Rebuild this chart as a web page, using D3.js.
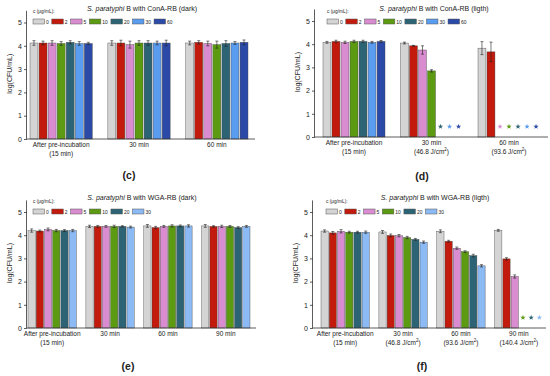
<!DOCTYPE html>
<html>
<head>
<meta charset="utf-8">
<script src="https://cdn.jsdelivr.net/npm/d3@7"></script>
<style>
  body { margin: 0; background: #fff; }
  text { font-family: "Liberation Sans", Arial, sans-serif; }
</style>
</head>
<body>
<div id="chart"></div>
<script>
// Series (concentrations) and their colours
const concConA = ['0', '2', '5', '10', '20', '30', '60'];
const concWGA = ['0', '2', '5', '10', '20', '30'];
const colorsConA = ['#d4d4d4', '#c21a0c', '#d98cd0', '#5c9a12', '#2d6475', '#5a9cef', '#2b4aa8'];
const colorsWGA = ['#d4d4d4', '#c21a0c', '#d98cd0', '#5c9a12', '#2d6475', '#8cbaf4'];

// Category labels (lines split with |)
const groupsC = ['After pre-incubation|(15 min)', '30 min', '60 min'];
const groupsD = ['After pre-incubation|(15 min)', '30 min|(46.8 J/cm²)', '60 min|(93.6 J/cm²)'];
const groupsE = ['After pre-incubation|(15 min)', '30 min', '60 min', '90 min'];
const groupsF = ['After pre-incubation|(15 min)', '30 min|(46.8 J/cm²)', '60 min|(93.6 J/cm²)', '90 min|(140.4 J/cm²)'];

// log(CFU/mL) values, one row per group; null = no survivors (star)
const valuesC = [
  [4.12, 4.12, 4.12, 4.10, 4.15, 4.10, 4.10],
  [4.12, 4.12, 4.05, 4.12, 4.12, 4.12, 4.12],
  [4.12, 4.15, 4.10, 4.05, 4.10, 4.12, 4.15]
];
const errorsC = [
  [0.10, 0.08, 0.10, 0.08, 0.07, 0.08, 0.05],
  [0.10, 0.12, 0.15, 0.10, 0.10, 0.08, 0.12],
  [0.08, 0.07, 0.10, 0.15, 0.12, 0.06, 0.10]
];
const valuesD = [
  [4.08, 4.12, 4.08, 4.12, 4.12, 4.08, 4.12],
  [4.05, 3.93, 3.75, 2.85, null, null, null],
  [3.83, 3.67, null, null, null, null, null]
];
const errorsD = [
  [0.04, 0.05, 0.05, 0.05, 0.05, 0.04, 0.04],
  [0.04, 0.02, 0.18, 0.05, 0, 0, 0],
  [0.28, 0.42, 0, 0, 0, 0, 0]
];
const valuesE = [
  [4.20, 4.18, 4.25, 4.20, 4.20, 4.20],
  [4.38, 4.38, 4.38, 4.38, 4.38, 4.35],
  [4.40, 4.33, 4.38, 4.40, 4.40, 4.40],
  [4.40, 4.38, 4.38, 4.38, 4.33, 4.38]
];
const errorsE = [
  [0.07, 0.04, 0.06, 0.05, 0.04, 0.05],
  [0.05, 0.04, 0.04, 0.05, 0.03, 0.04],
  [0.06, 0.05, 0.04, 0.05, 0.04, 0.05],
  [0.06, 0.03, 0.05, 0.04, 0.04, 0.04]
];
const valuesF = [
  [4.18, 4.10, 4.17, 4.13, 4.13, 4.13],
  [4.14, 3.99, 3.98, 3.90, 3.82, 3.70],
  [4.17, 3.74, 3.44, 3.29, 3.12, 2.68],
  [4.21, 2.98, 2.22, null, null, null]
];
const errorsF = [
  [0.05, 0.06, 0.07, 0.04, 0.04, 0.05],
  [0.06, 0.06, 0.05, 0.05, 0.04, 0.05],
  [0.06, 0.04, 0.05, 0.04, 0.06, 0.05],
  [0.04, 0.05, 0.07, 0, 0, 0]
];
const yTicks = [0, 1, 2, 3, 4, 5];
const starLevel = 0.45;

const svg = d3.select('#chart').append('svg')
  .attr('width', 550)
  .attr('height', 376);

function drawPanel(p) {
  const g = svg.append('g');

  const y = d3.scaleLinear()
    .domain([0, 5.5])
    .range([p.bottom, p.bottom - 5.5 * p.unit]);

  const x = d3.scaleBand()
    .domain(d3.range(p.groups.length))
    .range(p.band)
    .paddingInner(p.padInner);

  const xs = d3.scaleBand()
    .domain(d3.range(p.series.length))
    .range([0, x.bandwidth()])
    .paddingInner(0.12);

  // Bars
  p.values.forEach((row, gi) => {
    row.forEach((v, si) => {
      const cx = x(gi) + xs(si);
      if (v === null) {
        g.append('path')
          .attr('d', d3.symbol(d3.symbolStar, 9)())
          .attr('transform', `translate(${cx + xs.bandwidth() / 2},${y(starLevel)})`)
          .attr('fill', p.colors[si]);
        return;
      }
      g.append('rect')
        .attr('x', cx)
        .attr('y', y(v))
        .attr('width', xs.bandwidth())
        .attr('height', y(0) - y(v))
        .attr('fill', p.colors[si])
        .attr('stroke', '#444')
        .attr('stroke-width', 0.4);

      const e = p.errors[gi][si];
      const mx = cx + xs.bandwidth() / 2;
      g.append('path')
        .attr('d', `M${mx},${y(v - e)}V${y(v + e)}M${mx - 1.5},${y(v + e)}H${mx + 1.5}M${mx - 1.5},${y(v - e)}H${mx + 1.5}`)
        .attr('stroke', '#222')
        .attr('stroke-width', 0.6)
        .attr('fill', 'none');
    });
  });

  // Y axis
  const yAxis = g.append('g')
    .attr('transform', `translate(${p.left},0)`)
    .call(d3.axisLeft(y).tickValues(yTicks).tickSize(3).tickPadding(2).tickFormat(d3.format('d')));
  yAxis.select('.domain').attr('d', `M-0.5,${y(5.5)}V${y(0)}`).attr('stroke', '#333').attr('stroke-width', 0.8);
  yAxis.selectAll('.tick line').attr('stroke', '#333').attr('stroke-width', 0.8);
  yAxis.selectAll('.tick text').attr('font-size', 7).attr('fill', '#222')
    .attr('font-family', '"Liberation Sans", Arial, sans-serif');

  // X axis line
  g.append('line')
    .attr('x1', p.left).attr('x2', p.right)
    .attr('y1', y(0)).attr('y2', y(0))
    .attr('stroke', '#333').attr('stroke-width', 0.8);

  // Y label
  g.append('text')
    .attr('transform', `translate(${p.left - 15},${y(2.8)}) rotate(-90)`)
    .attr('text-anchor', 'middle')
    .attr('font-size', 7)
    .attr('fill', '#222')
    .text('log(CFU/mL)');

  // Category labels
  p.groups.forEach((lab, gi) => {
    const lines = lab.split('|');
    lines.forEach((ln, li) => {
      const t = g.append('text')
        .attr('x', x(gi) + x.bandwidth() / 2)
        .attr('y', y(0) + 8 + li * 8.5)
        .attr('text-anchor', 'middle')
        .attr('font-size', 6.5)
        .attr('fill', '#222');
      const m = ln.match(/^(.*J\/cm)²(\))$/);
      if (m) {
        t.append('tspan').text(m[1]);
        t.append('tspan').attr('font-size', 4.5).attr('dy', -2.5).text('2');
        t.append('tspan').attr('dy', 2.5).text(m[2]);
      } else {
        t.text(ln);
      }
    });
  });

  // Title
  const title = g.append('text')
    .attr('x', p.titleX)
    .attr('y', p.titleY)
    .attr('text-anchor', 'middle')
    .attr('font-size', 7)
    .attr('fill', '#222');
  title.append('tspan').attr('font-style', 'italic').text('S. paratyphi');
  title.append('tspan').text(' B with ' + p.titleRest);

  // Legend
  g.append('text')
    .attr('x', p.legendX)
    .attr('y', p.legendY - 6)
    .attr('font-size', 4.8)
    .attr('fill', '#222')
    .text('c (μg/mL):');
  let lx = p.legendX;
  p.series.forEach((s, si) => {
    g.append('rect')
      .attr('x', lx).attr('y', p.legendY)
      .attr('width', 11.5).attr('height', 5)
      .attr('fill', p.colors[si])
      .attr('stroke', '#555').attr('stroke-width', 0.5);
    const t = g.append('text')
      .attr('x', lx + 13)
      .attr('y', p.legendY + 4.6)
      .attr('font-size', 5)
      .attr('fill', '#222')
      .text(s);
    lx += 12.5 + t.node().getComputedTextLength() + 3.5;
  });

  // Panel letter
  g.append('text')
    .attr('x', p.letterX)
    .attr('y', p.letterY)
    .attr('text-anchor', 'middle')
    .attr('font-family', '"Liberation Serif", "Times New Roman", serif')
    .attr('font-weight', 'bold')
    .attr('font-size', 10.5)
    .attr('fill', '#222')
    .text(p.letter);
}

drawPanel({
  left: 27, right: 255, bottom: 139, unit: 23.3,
  band: [30, 248], padInner: 0.2,
  groups: groupsC, series: concConA, colors: colorsConA,
  values: valuesC, errors: errorsC,
  titleX: 142, titleY: 11, titleRest: 'ConA-RB (dark)',
  legendX: 33, legendY: 19, letter: '(c)', letterX: 129, letterY: 179
});

drawPanel({
  left: 315, right: 548, bottom: 137, unit: 23.2,
  band: [323, 540], padInner: 0.2,
  groups: groupsD, series: concConA, colors: colorsConA,
  values: valuesD, errors: errorsD,
  titleX: 434, titleY: 11, titleRest: 'ConA-RB (ligth)',
  legendX: 327, legendY: 19, letter: '(d)', letterX: 422, letterY: 180
});

drawPanel({
  left: 27, right: 256, bottom: 328, unit: 23.2,
  band: [28, 250], padInner: 0.165,
  groups: groupsE, series: concWGA, colors: colorsWGA,
  values: valuesE, errors: errorsE,
  titleX: 142, titleY: 200, titleRest: 'WGA-RB (dark)',
  legendX: 33, legendY: 209, letter: '(e)', letterX: 128, letterY: 370
});

drawPanel({
  left: 313, right: 546, bottom: 328, unit: 23.2,
  band: [321, 543], padInner: 0.165,
  groups: groupsF, series: concWGA, colors: colorsWGA,
  values: valuesF, errors: errorsF,
  titleX: 435, titleY: 200, titleRest: 'WGA-RB (ligth)',
  legendX: 326, legendY: 209, letter: '(f)', letterX: 422, letterY: 370
});
</script>
</body>
</html>
